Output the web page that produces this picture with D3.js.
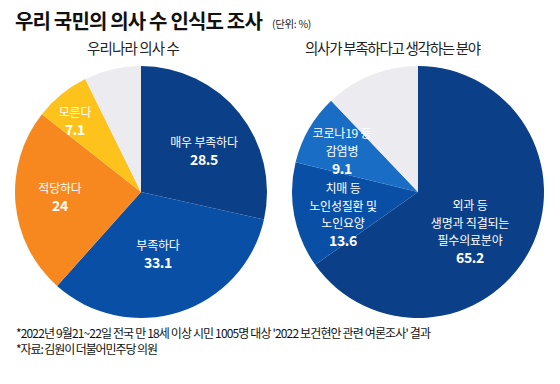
<!DOCTYPE html>
<html><head><meta charset="utf-8">
<script src="https://cdn.jsdelivr.net/npm/d3@7"></script>
<style>
html,body{margin:0;padding:0;background:#fff;}
text{font-family:"Noto Sans CJK KR","Noto Sans",sans-serif;}
</style></head><body>
<svg id="c" width="560" height="384"></svg>
<script>
const leftCategories = ["매우 부족하다","부족하다","적당하다","모른다","기타"];
const leftValues = [28.5, 33.1, 24, 7.1, 7.3];
const leftLabels = [["매우 부족하다"],["부족하다"],["적당하다"],["모른다"],[]];
const leftColors = ["#0b3f88","#0a4fa6","#f7881f","#fdc31c","#ececf0"];

const rightCategories = ["필수의료분야","노인요양","감염병","기타"];
const rightValues = [65.2, 13.6, 9.1, 12.1];
const rightLabels = [["외과 등","생명과 직결되는","필수의료분야"],["치매 등","노인성질환 및","노인요양"],["코로나19 등","감염병"],[]];
const rightColors = ["#0b3f88","#0a4fa6","#1a6dc4","#ececf0"];

const svg = d3.select("#c");
const R = 126;

// fit a text to a target width by letter-spacing
function fit(sel, target) {
  const node = sel.node();
  const nat = node.getComputedTextLength();
  const n = sel.text().length;
  sel.attr("letter-spacing", ((target - nat) / n).toFixed(2) + "px");
  return sel;
}

fit(svg.append("text").attr("x",15).attr("y",29).attr("font-size",20).attr("font-weight",700)
  .attr("fill","#111").text("우리 국민의 의사 수 인식도 조사"), 247);
fit(svg.append("text").attr("x",272).attr("y",28).attr("font-size",10.5).attr("fill","#222")
  .text("(단위: %)"), 39);

fit(svg.append("text").attr("x",87).attr("y",54).attr("font-size",14.5).attr("fill","#222")
  .text("우리나라 의사 수"), 92);
fit(svg.append("text").attr("x",305).attr("y",54).attr("font-size",14.5).attr("fill","#222")
  .text("의사가 부족하다고 생각하는 분야"), 175);

function drawPie(cx, cy, values, colors, labels, labelPos) {
  const pie = d3.pie().sort(null).value(d=>d);
  const arc = d3.arc().innerRadius(0).outerRadius(R);
  const g = svg.append("g").attr("transform",`translate(${cx},${cy})`);
  const arcs = pie(values);
  g.selectAll("path").data(arcs).join("path").attr("d",arc).attr("fill",(d,i)=>colors[i]);
  arcs.forEach((a,i)=>{
    if(!labels[i].length) return;
    const [lx,ly] = labelPos[i];
    const lines = labels[i];
    const lh = 17.5;
    lines.forEach((t,j)=>{
      svg.append("text").attr("x",lx).attr("y",ly + j*lh).attr("text-anchor","middle")
        .attr("font-size",12).attr("letter-spacing","-0.2px").attr("fill","#fff").text(t);
    });
    svg.append("text").attr("x",lx).attr("y",ly + (lines.length-1)*lh + 18).attr("text-anchor","middle")
      .attr("font-family","Roboto, 'Liberation Sans', sans-serif")
      .attr("font-size",14).attr("font-weight",700).attr("letter-spacing","-0.3px")
      .attr("fill","#fff").text(values[i]);
  });
}

drawPie(141, 192, leftValues, leftColors, leftLabels,
  [[204,147],[158,250],[60,193],[75,117],[0,0]]);
drawPie(418, 192, rightValues, rightColors, rightLabels,
  [[470,210],[343,193],[342,138],[0,0]]);

fit(svg.append("text").attr("x",16).attr("y",338).attr("font-size",12).attr("fill","#111")
  .text("*2022년 9월21~22일 전국 만 18세 이상 시민 1005명 대상 '2022 보건현안 관련 여론조사' 결과"), 414);
fit(svg.append("text").attr("x",16).attr("y",354).attr("font-size",12).attr("fill","#111")
  .text("*자료: 김원이 더불어민주당 의원"), 141);
</script></body></html>
